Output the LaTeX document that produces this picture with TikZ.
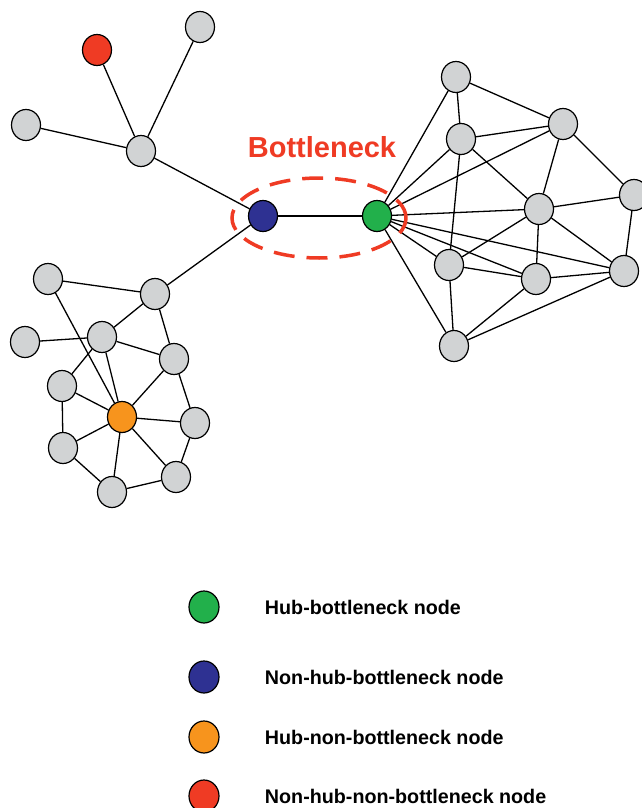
\documentclass[tikz,border=0pt]{standalone}
\usepackage{fontspec}
\setmainfont{Liberation Sans}
\usetikzlibrary{shapes.geometric}
\definecolor{vgray}{RGB}{209,211,212}
\definecolor{vred}{RGB}{239,59,36}
\definecolor{vblue}{RGB}{46,49,146}
\definecolor{vorange}{RGB}{247,148,29}
\definecolor{vgreen}{RGB}{34,176,75}

\begin{document}
\begin{tikzpicture}[x=1pt, y=-1pt, line width=1.3pt,
    vtx/.style={ellipse, draw, line width=1.2pt, fill=vgray, inner sep=0pt,
        minimum width=29pt, minimum height=31pt},
    key/.style={vtx, minimum width=30pt, minimum height=32pt},
    keytext/.style={anchor=west, font=\bfseries\fontsize{19.7}{22}\selectfont}]
    \useasboundingbox (0, 0) rectangle (642, 808);
    % upper left tree
    \foreach \n/\x/\y in {top/200/27, lft/26/125, hb/141/151,
        % lower left cluster
        a/48/279, b/155/294, c/25/342, d/102/337, e/174/359, f/62/386,
        g/195/423, h/63/448, i/176/477, j/112/492,
        % right cluster
        r1/456/77, r2/461/139, r3/563/124, r4/634/195, r5/539/209,
        r6/449/265, r7/536/279, r8/624/271, r9/454/346}
    \node [vtx] (\n) at (\x, \y) {};
    \node [vtx, fill=vred]    (red) at (97, 50)   {};
    \node [vtx, fill=vblue]   (nhb) at (263, 216) {};
    \node [vtx, fill=vgreen]  (hbn) at (377, 216) {};
    \node [vtx, fill=vorange] (hub) at (122, 417) {};
    \foreach \u/\v in {red/hb, top/hb, lft/hb, hb/nhb, nhb/hbn, nhb/b,
        a/b, a/hub, b/d, b/e, c/d, d/f, d/e, d/hub, e/hub, e/g, f/hub, f/h,
        hub/g, hub/h, hub/j, hub/i, g/i, i/j, h/j,
        hbn/r1, hbn/r2, hbn/r3, hbn/r5, hbn/r6, hbn/r7, hbn/r8, hbn/r9,
        r1/r2, r1/r3, r2/r3, r2/r5, r2/r6, r3/r5, r3/r4, r4/r5, r4/r8,
        r5/r6, r5/r7, r5/r8, r6/r7, r6/r9, r7/r8, r7/r9, r8/r9}
    \draw (\u) -- (\v);
    \node [ellipse, draw=vred, line width=3.5pt, dash pattern=on 21pt off 12pt,
        minimum width=174pt, minimum height=80pt] (zone) at (319, 218) {};
    \node [text=vred, font=\bfseries\fontsize{29}{32}\selectfont] (bneck)
        at (322, 147) {Bottleneck};
    % legend
    \foreach \c/\y/\t in {vgreen/607/Hub-bottleneck node,
        vblue/677/Non-hub-bottleneck node,
        vorange/737/Hub-non-bottleneck node,
        vred/796/Non-hub-non-bottleneck node}
    {
        \node [key, fill=\c] (k\y) at (204, \y) {};
        \node [keytext] (t\y) at (261, \y) {\t};
    }
\end{tikzpicture}
\end{document}
